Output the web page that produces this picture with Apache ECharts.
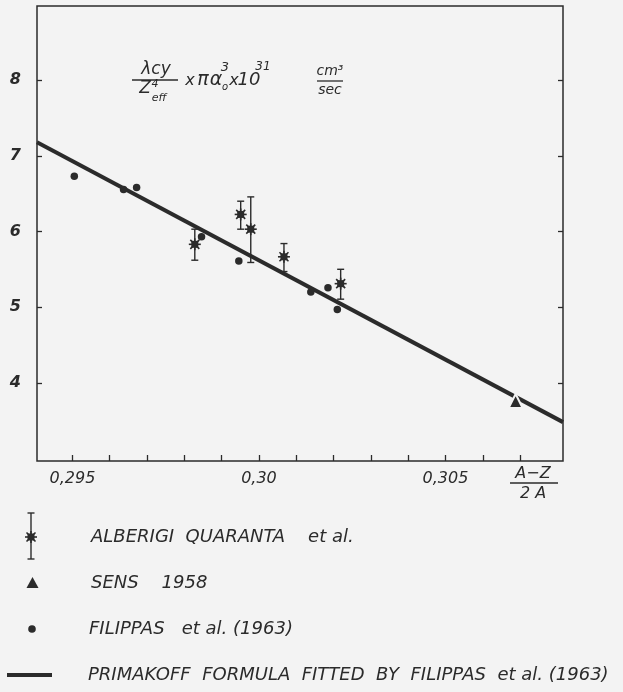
<!DOCTYPE html>
<html>
<head>
<meta charset="utf-8">
<script src="https://cdn.jsdelivr.net/npm/echarts@6.0.0/dist/echarts.min.js"></script>
<style>
  html, body { margin: 0; padding: 0; background: #f3f3f3; }
  #chart { width: 623px; height: 692px; }
</style>
</head>
<body>
<div id="chart"></div>
<script>
// ---- data ----
const xTicks = [0.295, 0.296, 0.297, 0.298, 0.299, 0.300, 0.301, 0.302, 0.303, 0.304, 0.305, 0.306, 0.307];
const xLabelValues = [0.295, 0.300, 0.305];
const xLabelTexts = ['0,295', '0,30', '0,305'];
const yTicks = [4, 5, 6, 7, 8];

// FILIPPAS et al. (1963)
const filX = [0.29505, 0.29637, 0.29672, 0.29846, 0.29946, 0.30139, 0.30185, 0.3021];
const filY = [6.73, 6.555, 6.58, 5.93, 5.61, 5.20, 5.255, 4.97];

// ALBERIGI QUARANTA et al. (value, low, high)
const agqX = [0.29828, 0.29951, 0.29978, 0.30067, 0.30219];
const agqY = [5.83, 6.225, 6.03, 5.665, 5.31];
const agqLo = [5.62, 6.03, 5.59, 5.47, 5.105];
const agqHi = [6.03, 6.40, 6.457, 5.84, 5.50];

// SENS 1958
const sensX = [0.30688];
const sensY = [3.76];

// Primakoff formula fitted by Filippas et al.
const fitX = [0.29405, 0.30815];
const fitY = [7.18, 3.48];

const INK = '#2b2b2b';
const BG = '#f3f3f3';
const FONT = 'DejaVu Sans';

// asterisk marker (square with spikes)
function starParts(cx, cy) {
    const r = 6, d = 4.5;
    const st = { stroke: INK, lineWidth: 1.6 };
    return [
        { type: 'line', shape: { x1: cx - d, y1: cy - d, x2: cx + d, y2: cy + d }, style: st },
        { type: 'line', shape: { x1: cx - d, y1: cy + d, x2: cx + d, y2: cy - d }, style: st },
        { type: 'line', shape: { x1: cx - r, y1: cy, x2: cx + r, y2: cy }, style: st },
        { type: 'line', shape: { x1: cx, y1: cy - r, x2: cx, y2: cy + r }, style: st },
        { type: 'rect', shape: { x: cx - 3.5, y: cy - 3.5, width: 7, height: 7 }, style: { fill: INK } }
    ];
}

function errBarParts(cx, yTop, yBot) {
    const st = { stroke: INK, lineWidth: 1.4 };
    return [
        { type: 'line', shape: { x1: cx, y1: yTop, x2: cx, y2: yBot }, style: st },
        { type: 'line', shape: { x1: cx - 3.5, y1: yTop, x2: cx + 3.5, y2: yTop }, style: st },
        { type: 'line', shape: { x1: cx - 3.5, y1: yBot, x2: cx + 3.5, y2: yBot }, style: st }
    ];
}

function renderAgq(params, api) {
    const c = api.coord([api.value(0), api.value(1)]);
    const lo = api.coord([api.value(0), api.value(2)]);
    const hi = api.coord([api.value(0), api.value(3)]);
    return {
        type: 'group',
        children: errBarParts(c[0], hi[1], lo[1]).concat(starParts(c[0], c[1]))
    };
}

function txt(x, y, text, size, align) {
    return {
        type: 'text', x: x, y: y,
        style: {
            text: text, fill: INK, fontFamily: FONT, fontStyle: 'italic',
            fontSize: size, align: align || 'center', verticalAlign: 'middle'
        }
    };
}
function hline(x1, x2, y, w) {
    return { type: 'line', shape: { x1: x1, y1: y, x2: x2, y2: y }, style: { stroke: INK, lineWidth: w || 1.3 } };
}

const chart = echarts.init(document.getElementById('chart'), null, { renderer: 'canvas' });

chart.setOption({
    backgroundColor: BG,
    animation: false,
    grid: {
        left: 37, right: 60, top: 6, bottom: 231,
        show: true, borderColor: INK, borderWidth: 1.5, backgroundColor: 'transparent'
    },
    xAxis: {
        type: 'value', min: 0.29405, max: 0.30815,
        axisLine: { show: false },
        splitLine: { show: false },
        axisTick: { show: true, inside: true, length: 6, customValues: xTicks, lineStyle: { color: INK, width: 1.3 } },
        axisLabel: {
            customValues: xLabelValues,
            formatter: v => xLabelTexts[xLabelValues.findIndex(t => Math.abs(t - v) < 1e-7)] || '',
            color: INK, fontFamily: FONT, fontStyle: 'italic', fontSize: 16, margin: 10
        }
    },
    yAxis: [{
        type: 'value', min: 2.966, max: 8.98, position: 'left',
        axisLine: { show: false },
        splitLine: { show: false },
        axisTick: { show: true, inside: true, length: 5, customValues: yTicks, lineStyle: { color: INK, width: 1.3 } },
        axisLabel: {
            customValues: yTicks,
            color: INK, fontFamily: FONT, fontStyle: 'italic', fontWeight: 'bold', fontSize: 16, margin: 16
        }
    }, {
        type: 'value', min: 2.966, max: 8.98, position: 'right',
        axisLine: { show: false },
        splitLine: { show: false },
        axisTick: { show: true, inside: true, length: 5, customValues: yTicks, lineStyle: { color: INK, width: 1.3 } },
        axisLabel: { show: false }
    }],
    series: [
        {
            name: 'PRIMAKOFF', type: 'line', z: 2,
            data: fitX.map((x, i) => [x, fitY[i]]),
            showSymbol: false, lineStyle: { color: INK, width: 4 }
        },
        {
            name: 'FILIPPAS', type: 'scatter', z: 3,
            data: filX.map((x, i) => [x, filY[i]]),
            symbol: 'circle', symbolSize: 7.5,
            itemStyle: { color: INK, opacity: 1 }
        },
        {
            name: 'SENS', type: 'scatter', z: 4,
            data: sensX.map((x, i) => [x, sensY[i]]),
            symbol: 'triangle', symbolSize: 14,
            itemStyle: { color: INK, opacity: 1, borderColor: BG, borderWidth: 2 }
        },
        {
            name: 'ALBERIGI QUARANTA', type: 'custom', z: 5,
            data: agqX.map((x, i) => [x, agqY[i], agqLo[i], agqHi[i]]),
            renderItem: renderAgq
        }
    ],
    graphic: [
        // y axis quantity
        txt(156, 70, 'λcy', 17),
        hline(132, 178, 80),
        txt(145, 89, 'Z', 17),
        txt(155, 84, '4', 11),
        txt(159, 98, 'eff', 11),
        txt(190, 81, 'x', 16),
        txt(203, 80, 'π', 19),
        txt(216, 80, 'α', 19),
        txt(225, 87, 'o', 10),
        txt(225, 68, '3', 13),
        txt(234, 81, 'x', 16),
        txt(249, 80, '10', 18),
        txt(263, 67, '31', 12),
        txt(330, 71, 'cm³', 14),
        hline(317, 343, 81),
        txt(330, 90, 'sec', 14),
        // x axis quantity
        txt(533, 474, 'A−Z', 16),
        hline(510, 558, 483),
        txt(533, 494, '2 A', 16),
        // legend
        { type: 'group', children: errBarParts(31, 513, 559).concat(starParts(31, 537)) },
        txt(91, 537, 'ALBERIGI  QUARANTA    et al.', 18, 'left'),
        { type: 'polygon', shape: { points: [[32.5, 577], [38.5, 588], [26.5, 588]] }, style: { fill: INK } },
        txt(91, 583, 'SENS    1958', 18, 'left'),
        { type: 'circle', shape: { cx: 32, cy: 629, r: 3.8 }, style: { fill: INK } },
        txt(89, 629, 'FILIPPAS   et al. (1963)', 18, 'left'),
        hline(7, 52, 675, 4),
        txt(88, 675, 'PRIMAKOFF  FORMULA  FITTED  BY  FILIPPAS  et al. (1963)', 18, 'left')
    ]
});

window.addEventListener('resize', () => chart.resize());
</script>
</body>
</html>
